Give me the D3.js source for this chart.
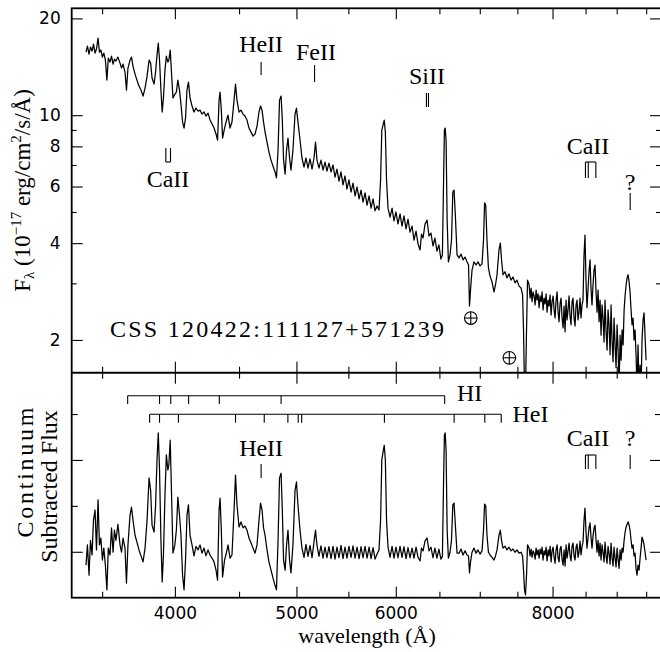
<!DOCTYPE html>
<html><head><meta charset="utf-8">
<script src="https://cdn.jsdelivr.net/npm/d3@7"></script>
<style>body{margin:0;background:#fff}svg{display:block}</style>
</head><body>
<svg id="chart" width="660" height="652"></svg>
<script>
// ---- data ----
const wave = [
3398,3407,3417,3426,3436,3445,3455,3464,3474,3483,
3492,3502,3511,3521,3531,3540,3551,3561,3571,3580,
3590,3603,3617,3627,3637,3650,3660,3670,3684,3694,
3704,3718,3731,3745,3759,3773,3787,3801,3815,3826,
3836,3850,3861,3871,3880,3889,3899,3908,3917,3928,
3938,3949,3956,3966,3975,3986,4000,4011,4022,4034,
4045,4057,4068,4079,4090,4101,4113,4128,4143,4158,
4174,4189,4204,4220,4235,4251,4267,4283,4298,4314,
4326,4338,4346,4356,4366,4382,4398,4410,4426,4442,
4459,4471,4483,4500,4516,4533,4549,4566,4583,4600,
4617,4634,4651,4668,4681,4694,4707,4720,4737,4754,
4772,4789,4807,4820,4834,4847,4861,4872,4883,4897,
4910,4923,4937,4950,4968,4987,5000,5014,5033,5051,
5070,5088,5107,5126,5145,5164,5178,5192,5211,5230,
5250,5269,5288,5307,5328,5347,5367,5386,5406,5426,
5446,5466,5486,5506,5527,5547,5568,5588,5609,5629,
5650,5671,5692,5713,5734,5755,5776,5797,5818,5835,
5848,5861,5874,5886,5899,5915,5937,5959,5980,6002,
6024,6047,6069,6091,6114,6136,6159,6182,6204,6227,
6250,6273,6290,6308,6331,6354,6377,6400,6424,6447,
6471,6494,6518,6536,6550,6560,6569,6580,6593,6608,
6628,6646,6662,6677,6693,6714,6739,6763,6788,6813,
6838,6857,6869,6882,6901,6926,6952,6977,7003,7029,
7048,7062,7077,7093,7112,7133,7159,7185,7205,7225,
7251,7269,7285,7305,7332,7358,7385,7413,7440,7468,
7495,7523,7551,7572,7585,7599,7613,7627,7641,
7663,7677,7691,7705,7719,7734,7748,7762,7776,7791,
7805,7819,7834,7848,7862,7877,7891,7906,7920,7935,
7949,7964,7979,7993,8008,8023,8037,8052,8067,8082,
8096,8111,8126,8141,8156,8171,8186,8201,8216,8231,
8246,8261,8276,8292,8307,8322,8337,8353,8368,8383,
8398,8414,8429,8445,8460,8476,8491,8507,8522,8538,
8554,8570,8585,8601,8617,8633,8649,8665,8681,8697,
8713,8729,8745,8761,8777,8793,8809,8825,8842,8858,
8874,8891,8907,8923,8940,8956,8973,8989,9006,9023,
9039,9056,9073,9089,9106,9123,9140,9157,9173,9190,
9207,9223,9240,9257,9274,9291,9308,9325,9342,9359,
9377,9394,9411,9428,9446,9463,9480,9498];

// observed flux, 1e-17 erg/cm2/s/A (top panel)
const fluxTop = [
15.71,16.40,15.49,16.29,15.83,16.64,15.60,16.06,17.37,15.71,
15.94,15.16,15.60,14.84,12.86,15.05,14.63,15.27,14.42,14.95,
14.74,15.16,14.52,14.01,14.42,13.62,11.97,14.01,14.84,15.16,
14.22,13.42,12.86,12.32,11.97,11.47,12.14,13.23,14.84,14.52,
13.05,12.50,13.62,15.38,16.76,14.84,11.97,10.23,11.31,13.81,
15.27,14.63,14.84,15.94,13.62,11.31,11.63,11.80,12.86,11.97,
10.83,9.52,9.12,9.80,11.97,12.68,11.31,10.68,10.23,10.52,
10.30,10.37,10.08,10.23,9.94,10.15,9.66,9.39,9.12,8.74,
8.37,11.14,11.80,10.37,8.49,9.12,9.66,10.01,9.12,9.52,
11.14,12.50,11.14,10.23,10.37,10.08,9.94,9.66,9.12,8.86,
8.61,8.74,9.25,10.23,10.68,10.37,9.52,8.86,8.25,7.68,
7.25,6.95,6.66,6.38,7.79,11.14,11.47,9.66,7.25,6.56,
7.79,8.49,7.36,6.75,7.79,10.08,10.52,9.52,8.37,7.36,
6.90,7.36,6.85,7.31,6.80,7.36,8.25,7.25,6.85,7.25,
6.75,7.15,6.70,7.10,6.66,7.00,6.42,6.80,6.24,6.66,
6.07,6.47,5.89,6.29,5.77,6.15,5.61,5.98,5.49,5.85,
5.37,5.73,5.25,5.61,5.14,5.49,5.04,5.22,5.07,6.29,
8.99,9.32,9.66,8.86,6.29,5.14,4.82,5.14,4.69,5.00,
4.59,4.93,4.52,4.86,4.43,4.75,4.33,4.52,4.09,4.36,
3.98,3.81,4.27,4.15,4.59,4.72,4.21,4.30,3.92,4.15,
3.78,3.95,3.57,3.68,6.29,8.99,9.12,8.37,4.72,3.50,
3.68,4.09,5.77,5.85,4.89,3.68,3.60,3.70,3.55,3.62,
3.50,3.42,2.55,2.86,3.30,3.50,3.42,3.50,3.40,3.45,
4.09,5.34,5.25,4.09,3.35,3.16,3.03,2.82,2.97,3.19,
3.81,4.00,3.55,3.19,3.26,3.12,3.21,3.07,3.14,3.01,
3.07,2.94,2.90,2.76,2.15,1.40,1.40,2.15,3.07,
2.97,2.70,2.90,2.63,2.82,2.74,2.57,2.86,2.66,2.78,
2.52,2.74,2.63,2.82,2.48,2.70,2.59,2.78,2.44,2.66,
2.55,2.76,2.39,2.63,2.74,2.48,2.34,2.66,2.82,2.44,
2.28,2.59,2.70,2.34,2.18,2.55,2.12,2.66,2.31,2.48,
2.74,2.37,2.23,2.63,2.70,2.34,2.21,2.57,2.66,2.31,
2.44,2.70,2.34,2.57,2.66,3.68,4.24,3.03,2.52,2.86,
3.26,3.55,2.90,2.57,2.97,3.30,3.42,2.82,2.44,2.86,
2.28,2.66,2.07,2.57,2.34,1.97,2.66,2.15,1.86,2.48,
2.23,1.80,2.57,2.00,1.71,2.34,1.93,1.64,2.23,1.86,
1.40,2.07,1.73,2.15,1.93,2.48,2.76,2.97,3.12,3.19,
3.03,2.82,2.48,2.23,2.34,2.00,2.15,1.80,1.40,1.93,
1.40,1.67,1.40,2.00,2.31,2.43,2.07,1.73];

// continuum-subtracted flux (bottom panel, arbitrary units)
const fluxSub = [
-0.29,0.15,-0.51,0.25,-0.07,0.69,0.91,0.04,1.13,0.15,
0.30,-0.18,0.08,-0.29,-0.83,0.08,-0.07,0.52,-0.01,0.47,
0.25,0.60,0.15,-0.01,0.30,0.08,-0.68,0.15,0.80,0.97,
0.69,0.36,0.21,0.04,-0.09,-0.22,0.08,0.69,1.61,1.34,
0.58,0.43,1.02,2.00,2.59,1.78,0.25,-0.66,-0.07,1.24,
2.11,1.78,1.89,2.43,1.34,-0.03,0.15,0.47,1.19,0.80,
0.36,-0.51,-0.83,-0.18,0.80,1.02,0.36,0.15,-0.09,0.12,
0.04,0.15,-0.03,0.08,-0.09,0.04,-0.07,-0.14,-0.22,-0.40,
-0.62,0.91,1.17,0.47,-0.55,-0.18,-0.01,0.15,-0.14,-0.07,
0.91,1.67,1.02,0.54,0.65,0.52,0.56,0.47,0.30,0.19,
0.08,-0.03,0.15,0.69,1.06,0.91,0.52,0.36,0.04,-0.22,
-0.40,-0.57,-0.73,-0.83,0.25,1.61,1.71,0.91,-0.18,-0.40,
0.15,0.47,-0.18,-0.46,0.15,1.34,1.52,1.02,0.47,0.08,
-0.12,0.16,-0.10,0.14,-0.13,0.22,0.47,0.14,-0.10,0.13,
-0.14,0.10,-0.13,0.11,-0.15,0.12,-0.16,0.10,-0.13,0.14,
-0.15,0.10,-0.14,0.12,-0.12,0.13,-0.14,0.10,-0.15,0.11,
-0.13,0.12,-0.14,0.10,-0.15,0.09,-0.16,-0.05,0.04,0.69,
2.00,2.17,2.32,2.00,0.69,0.10,-0.12,0.12,-0.14,0.10,
-0.13,0.12,-0.12,0.11,-0.15,0.09,-0.13,0.08,-0.14,0.10,
-0.12,-0.20,0.08,0.02,0.24,0.30,0.02,0.10,-0.13,0.08,
-0.14,0.06,-0.16,-0.10,1.56,2.54,2.59,2.22,0.47,-0.14,
-0.01,0.25,1.02,1.06,0.58,-0.03,-0.03,0.06,-0.07,0.02,
-0.07,-0.09,-0.46,-0.22,-0.01,0.08,-0.03,0.04,-0.05,0.02,
0.47,1.04,1.00,0.36,-0.01,-0.07,-0.12,-0.18,-0.09,0.04,
0.36,0.47,0.25,0.08,0.12,0.04,0.10,0.02,0.06,-0.01,
0.04,-0.03,-0.01,-0.09,-0.40,-0.83,-0.94,-0.51,0.15,
0.08,-0.09,0.06,-0.12,0.02,-0.03,-0.16,0.08,-0.07,0.04,
-0.14,0.06,-0.05,0.10,-0.18,0.02,-0.07,0.10,-0.20,0.04,
-0.09,0.12,-0.22,0.02,0.10,-0.12,-0.25,0.04,0.15,-0.14,
-0.22,0.06,0.12,-0.16,-0.29,0.04,-0.31,0.15,-0.14,0.02,
0.19,-0.09,-0.20,0.12,0.19,-0.09,-0.18,0.10,0.17,-0.12,
-0.01,0.23,-0.07,0.12,0.21,0.69,0.95,0.43,0.08,0.30,
0.52,0.63,0.32,0.08,0.34,0.52,0.58,0.25,-0.01,0.25,
-0.09,0.19,-0.18,0.15,-0.01,-0.22,0.21,-0.09,-0.25,0.12,
-0.03,-0.27,0.19,-0.12,-0.31,0.10,-0.14,-0.33,0.08,-0.16,
-0.36,0.04,-0.18,0.08,-0.01,0.25,0.43,0.54,0.60,0.65,
0.58,0.47,0.25,0.08,0.15,-0.09,-0.03,-0.36,-0.51,-0.29,
-0.40,-0.14,0.08,0.32,0.25,0.15,-0.01,-0.18];

// axis ticks
const xTicksMajor = [4000, 5000, 6000, 8000];
const xTicksMinor = [3500, 4500, 5500, 6500, 7000, 7500, 8500, 9000, 9500];
const yTopTicksMajor = [2, 4, 6, 8, 10, 20];
const yTopTicksMinor = [3, 5, 7, 9];
const ySubTicksMajor = [0, 2];
const ySubTicksMinor = [1, 3];

// line identifications (wavelength, A)
const hiLines = [3668, 3889, 3970, 4102, 4340, 4861, 6563];
const heiLines = [3819, 3889, 4026, 4471, 4713, 4922, 5016, 5048, 5876, 6678, 7065, 7281];
const caHK = [3934, 3968];
const caTriplet = [8498, 8542, 8662];
const siII = [6347, 6371];
const heII = [4686];
const feII = [5169];
const unknownLine = [9225];
const tellurics = [6885, 7390];
const tellFlux = [2.34, 1.76];

// ---- layout ----
const svg = d3.select("#chart");
const L = 71.7, R = 661, T = 8.3, MID = 372.7, B = 597.7;
const x = d3.scaleLog().domain([3310, 9762]).range([L, R]);
const yTop = d3.scaleLog().domain([1.582, 21.5]).range([MID, T]);
const ySub = d3.scaleLinear().domain([-1, 3.9]).range([B, MID]);

const SERIF = "'Liberation Serif', 'Times New Roman', serif";
const SANS = "'DejaVu Sans', sans-serif";

const defs = svg.append("defs");
defs.append("clipPath").attr("id", "cTop").append("rect")
  .attr("x", L).attr("y", T).attr("width", R - L).attr("height", MID - T);
defs.append("clipPath").attr("id", "cSub").append("rect")
  .attr("x", L).attr("y", MID).attr("width", R - L).attr("height", B - MID);

const pts = wave.map((w, i) => ({w, f: fluxTop[i], s: fluxSub[i]}));

svg.append("path").datum(pts).attr("clip-path", "url(#cTop)")
  .attr("d", d3.line().x(d => x(d.w)).y(d => yTop(d.f)))
  .attr("fill", "none").attr("stroke", "#000").attr("stroke-width", 1.25)
  .attr("stroke-linejoin", "round");
svg.append("path").datum(pts).attr("clip-path", "url(#cSub)")
  .attr("d", d3.line().x(d => x(d.w)).y(d => ySub(d.s)))
  .attr("fill", "none").attr("stroke", "#000").attr("stroke-width", 1.25)
  .attr("stroke-linejoin", "round");

// ---- axes ----
function ax(gen, scale, vals, size, tx, ty, labels, pad) {
  const a = gen(scale).tickValues(vals).tickSize(-size).tickPadding(pad || 3);
  a.tickFormat(labels ? d3.format("d") : () => "");
  const g = svg.append("g").attr("transform", `translate(${tx},${ty})`).call(a);
  g.select(".domain").remove();
  g.selectAll(".tick line").attr("stroke", "#000").attr("stroke-width", 1.1);
  g.selectAll(".tick text").attr("font-family", SANS).attr("font-size", 17).attr("fill", "#000");
  return g;
}
// top panel
ax(d3.axisLeft, yTop, yTopTicksMajor, 11, L, 0, true, 11);
ax(d3.axisLeft, yTop, yTopTicksMinor, 5, L, 0, false);
ax(d3.axisRight, yTop, yTopTicksMajor, 11, R, 0, false);
ax(d3.axisRight, yTop, yTopTicksMinor, 5, R, 0, false);
ax(d3.axisTop, x, xTicksMajor, 11, 0, T, false);
ax(d3.axisTop, x, xTicksMinor, 6, 0, T, false);
ax(d3.axisBottom, x, xTicksMajor, 11, 0, MID, false);
ax(d3.axisBottom, x, xTicksMinor, 6, 0, MID, false);
// bottom panel
ax(d3.axisTop, x, xTicksMajor, 11, 0, MID, false);
ax(d3.axisTop, x, xTicksMinor, 6, 0, MID, false);
ax(d3.axisBottom, x, xTicksMajor, 11, 0, B, true, 9.5);
ax(d3.axisBottom, x, xTicksMinor, 6, 0, B, false);
ax(d3.axisLeft, ySub, ySubTicksMajor, 11, L, 0, false);
ax(d3.axisLeft, ySub, ySubTicksMinor, 6, L, 0, false);
ax(d3.axisRight, ySub, ySubTicksMajor, 11, R, 0, false);
ax(d3.axisRight, ySub, ySubTicksMinor, 6, R, 0, false);

// frames
svg.append("rect").attr("x", L).attr("y", T).attr("width", R - L).attr("height", B - T)
  .attr("fill", "none").attr("stroke", "#000").attr("stroke-width", 1.8);
svg.append("line").attr("x1", L).attr("x2", R).attr("y1", MID).attr("y2", MID)
  .attr("stroke", "#000").attr("stroke-width", 2);

// ---- annotations ----
const ann = svg.append("g").attr("stroke", "#000").attr("stroke-width", 1.1).attr("fill", "none");
function vline(w, y1, y2) { ann.append("line").attr("x1", x(w)).attr("x2", x(w)).attr("y1", y1).attr("y2", y2); }
function hline(w1, w2, y) { ann.append("line").attr("x1", x(w1)).attr("x2", x(w2)).attr("y1", y).attr("y2", y); }
function label(t, px, py, opt) {
  opt = opt || {};
  const el = svg.append("text").attr("x", px).attr("y", py).text(t)
    .attr("font-family", SERIF).attr("font-size", opt.size || 24).attr("fill", "#000")
    .attr("text-anchor", opt.anchor || "middle");
  if (opt.len) el.attr("textLength", opt.len);
  return el;
}

// top panel identifications
label("HeII", x(heII[0]), 52); heII.forEach(w => vline(w, 62, 75));
label("FeII", 316, 60); feII.forEach(w => vline(w, 65, 82));
label("SiII", 427, 84); siII.forEach(w => vline(w, 93, 107));
label("CaII", 168, 187);
caHK.forEach(w => vline(w, 148, 162)); hline(caHK[0], caHK[1], 162);
label("CaII", 588, 154);
caTriplet.forEach(w => vline(w, 162, 178)); hline(caTriplet[0], caTriplet[2], 162);
label("?", x(unknownLine[0]), 190); unknownLine.forEach(w => vline(w, 193, 210));
tellurics.forEach((w, i) => {
  const cx = x(w), cy = yTop(tellFlux[i]);
  ann.append("circle").attr("cx", cx).attr("cy", cy).attr("r", 6.3);
  ann.append("line").attr("x1", cx - 6.3).attr("x2", cx + 6.3).attr("y1", cy).attr("y2", cy);
  ann.append("line").attr("x1", cx).attr("x2", cx).attr("y1", cy - 6.3).attr("y2", cy + 6.3);
});
label("CSS 120422:111127+571239", 110, 337, {anchor: "start", len: 334});

// bottom panel identifications
hline(hiLines[0], hiLines[hiLines.length - 1], 395.7);
hiLines.forEach(w => vline(w, 395.7, 404));
label("HI", 457, 401, {anchor: "start"});
hline(heiLines[0], heiLines[heiLines.length - 1], 414.3);
heiLines.forEach(w => vline(w, 414.3, 422.7));
label("HeI", 512.5, 422, {anchor: "start"});
label("HeII", x(heII[0]), 456); heII.forEach(w => vline(w, 464, 478));
label("CaII", 588, 446);
caTriplet.forEach(w => vline(w, 455, 469)); hline(caTriplet[0], caTriplet[2], 455);
label("?", x(unknownLine[0]), 446); unknownLine.forEach(w => vline(w, 455, 469));

// ---- axis titles ----
const yl = svg.append("text").attr("transform", "translate(30,190.5) rotate(-90)")
  .attr("text-anchor", "middle").attr("font-family", SERIF).attr("font-size", 23).attr("fill", "#000");
yl.append("tspan").text("F");
yl.append("tspan").attr("font-size", 15).attr("dy", 4).text("λ");
yl.append("tspan").attr("dy", -4).text(" (10");
yl.append("tspan").attr("font-size", 15).attr("dy", -9).text("−17");
yl.append("tspan").attr("dy", 9).text(" erg/cm");
yl.append("tspan").attr("font-size", 15).attr("dy", -9).text("2");
yl.append("tspan").attr("dy", 9).text("/s/Å)");

svg.append("text").attr("transform", "translate(33,472.5) rotate(-90)")
  .attr("text-anchor", "middle").attr("font-family", SERIF).attr("font-size", 24)
  .attr("textLength", 130).text("Continuum");
svg.append("text").attr("transform", "translate(56.5,486.5) rotate(-90)")
  .attr("text-anchor", "middle").attr("font-family", SERIF).attr("font-size", 24)
  .text("Subtracted Flux");
svg.append("text").attr("x", 367).attr("y", 643).attr("text-anchor", "middle")
  .attr("font-family", SERIF).attr("font-size", 22).text("wavelength (Å)");
</script>
</body></html>
